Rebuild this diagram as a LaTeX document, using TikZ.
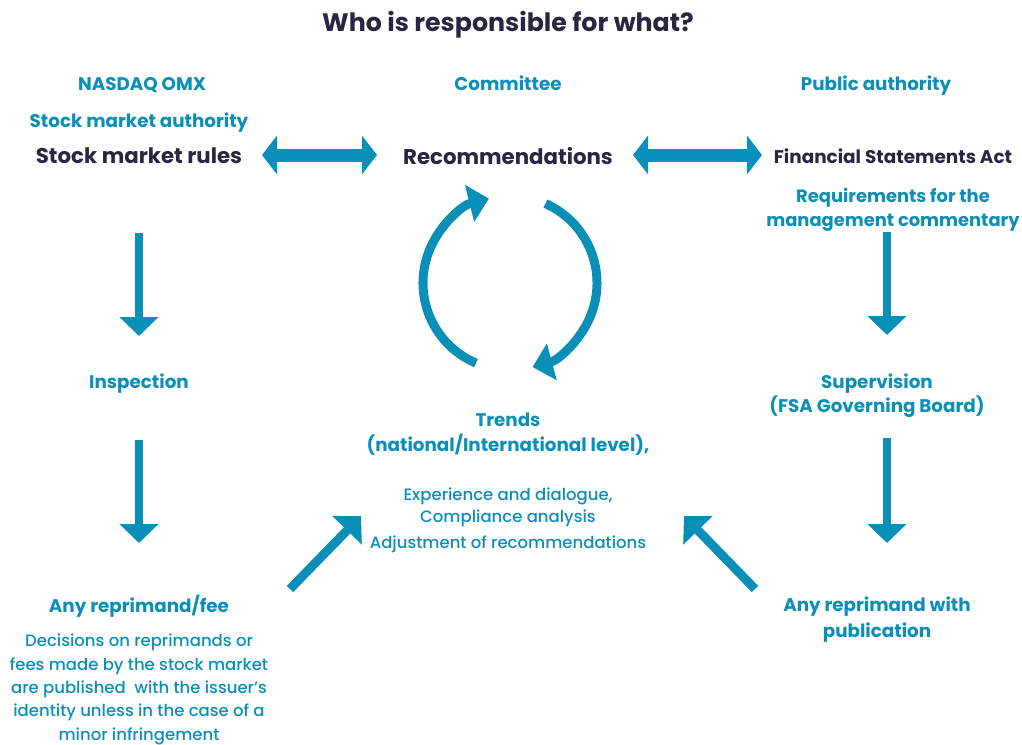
\documentclass[tikz,border=0pt]{standalone}
\usepackage{fontspec}
\IfFontExistsTF{Poppins Bold}
  {\setmainfont{Poppins}[BoldFont={Poppins Bold}]}
  {\setmainfont{Poppins}}
\IfFontExistsTF{Poppins Medium}
  {\newfontfamily\medfont{Poppins Medium}}
  {\newfontfamily\medfont{Poppins}}
\usepackage{tikz}
\usetikzlibrary{arrows.meta}
\definecolor{sea}{HTML}{0A8FB8}
\definecolor{ink}{HTML}{2A2541}

\begin{document}
\begin{tikzpicture}[x=1pt,y=1pt,
  head/.style={anchor=base,align=center,text=sea,font=\bfseries\fontsize{18.3}{24}\selectfont},
  dark/.style={anchor=base,text=ink,font=\bfseries\fontsize{21.3}{24}\selectfont},
  body/.style={anchor=base,align=center,text=sea,font=\medfont\fontsize{16.5}{23.3}\selectfont},
  both way/.style={{Triangle[length=15pt,width=38pt]}-{Triangle[length=15pt,width=38pt]},line width=13pt,draw=sea},
  down/.style={-{Triangle[length=19pt,width=38pt]},line width=8.5pt,draw=sea},
  slant/.style={-{Triangle[length=20pt,width=40pt]},line width=9pt,draw=sea},
  round/.style={-{Triangle[length=20pt,width=37pt]},line width=9pt,draw=sea}]
  \useasboundingbox (0,0) rectangle (1022,-744);

  \node[dark,font=\bfseries\fontsize{25.3}{28}\selectfont] (title) at (508,-31) {Who is responsible for what?};

  % three columns (multi-line nodes sit on their last baseline)
  \node[head] (nasdaq) at (142,-90) {NASDAQ OMX};
  \node[head] (comm) at (508,-90) {Committee};
  \node[head] (public) at (876,-90) {Public authority};
  \node[head] (smauth) at (139,-127) {Stock market authority};
  \node[dark] (rules) at (139,-163) {Stock market rules};
  \node[dark] (rec) at (508,-164) {Recommendations};
  \node[dark,font=\bfseries\fontsize{18.4}{21}\selectfont] (act) at (893,-163) {Financial Statements Act};
  \node[head,font=\bfseries\fontsize{17.9}{24}\selectfont] (req) at (893,-226) {Requirements for the\\management commentary};

  \node[head] (insp) at (139,-388) {Inspection};
  \node[head,font=\bfseries\fontsize{18.3}{23.5}\selectfont] (superv) at (877,-412) {Supervision\\(FSA Governing Board)};
  \node[head,font=\bfseries\fontsize{18.3}{24.5}\selectfont] (trends) at (508,-451) {Trends\\(national/International level),};
  \node[body,font=\medfont\fontsize{16.5}{22}\selectfont] (exp) at (508,-548) {Experience and dialogue,\\Compliance analysis\\[4pt]Adjustment of recommendations};

  \node[head] (fee) at (139,-612) {Any reprimand/fee};
  \node[body] (decis) at (139,-740) {Decisions on reprimands or\\fees made by the stock market\\are published~ with the issuer’s\\identity unless in the case of a\\minor infringement};
  \node[head,font=\bfseries\fontsize{18.3}{25.7}\selectfont] (publ) at (877,-637) {Any reprimand with\\publication};

  % arrow ends
  \coordinate (l1) at (262,-155);  \coordinate (l2) at (377,-155);
  \coordinate (r1) at (633,-155);  \coordinate (r2) at (762,-155);
  \coordinate (a1) at (139,-233);  \coordinate (a2) at (139,-336);
  \coordinate (a3) at (139,-440);  \coordinate (a4) at (139,-543);
  \coordinate (b1) at (887,-232);  \coordinate (b2) at (887,-335);
  \coordinate (b3) at (887,-438);  \coordinate (b4) at (887,-543);
  \coordinate (c1) at (290,-589);  \coordinate (c2) at (361,-516);
  \coordinate (d1) at (755,-589);  \coordinate (d2) at (684,-516);
  \coordinate (cyc) at (510,-283);

  \draw[both way] (l1) -- (l2);
  \draw[both way] (r1) -- (r2);
  \draw[down] (a1) -- (a2);
  \draw[down] (a3) -- (a4);
  \draw[down] (b1) -- (b2);
  \draw[down] (b3) -- (b4);
  \draw[slant] (c1) -- (c2);
  \draw[slant] (d1) -- (d2);
  \draw[round] (cyc) ++(247:87) arc[start angle=247,end angle=104,radius=87];
  \draw[round] (cyc) ++(66:87) arc[start angle=66,end angle=-75,radius=87];
\end{tikzpicture}
\end{document}
